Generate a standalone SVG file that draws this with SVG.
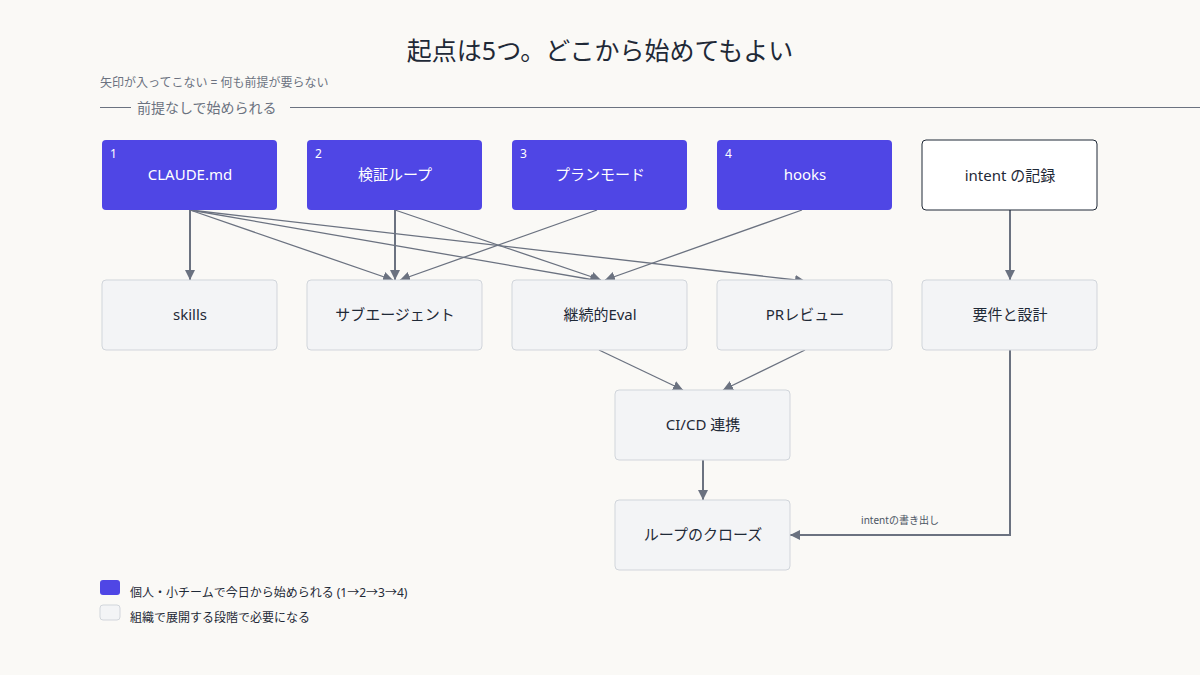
<svg xmlns="http://www.w3.org/2000/svg" width="1200" height="675" viewBox="0 0 1200 675">
<style>
text{font-family:"Noto Sans","Noto Sans CJK JP",sans-serif}
.p rect{fill:#4f46e5}
.p text{fill:#ffffff}
.s rect{fill:#f3f4f6;stroke:#d1d5db;stroke-width:1}
.s text{fill:#1f2937}
.lbl{font-size:15px;text-anchor:middle}
.num{font-size:12px}
.e{stroke:#6b7280;stroke-width:1.3;fill:none;marker-end:url(#ah)}
.ev{stroke:#6b7280;stroke-width:2;fill:none;marker-end:url(#ah)}
</style>
<defs>
<marker id="ah" viewBox="0 0 10 10" refX="10" refY="5" markerWidth="10" markerHeight="10" markerUnits="userSpaceOnUse" orient="auto">
<path d="M0,0 L10,5 L0,10 z" fill="#6b7280"/>
</marker>
</defs>
<rect width="1200" height="675" fill="#faf9f6"/>
<text x="600" y="60" font-size="25" text-anchor="middle" fill="#1f2937">起点は5つ。どこから始めてもよい</text>
<text x="100" y="87" font-size="12" fill="#6b7280">矢印が入ってこない = 何も前提が要らない</text>
<line x1="100" y1="107.5" x2="131" y2="107.5" stroke="#6b7280" stroke-width="1"/>
<text x="137" y="113" font-size="14" fill="#6b7280">前提なしで始められる</text>
<line x1="290" y1="107.5" x2="1200" y2="107.5" stroke="#6b7280" stroke-width="1"/>

<g id="connectors">
<line class="ev" x1="190" y1="210" x2="190" y2="280"/>
<line class="e" x1="190" y1="210" x2="393" y2="280"/>
<line class="e" x1="190" y1="210" x2="600" y2="281"/>
<line class="e" x1="190" y1="210" x2="805" y2="281"/>
<line class="ev" x1="395" y1="210" x2="395" y2="280"/>
<line class="e" x1="395" y1="210" x2="601" y2="280"/>
<line class="e" x1="597" y1="210" x2="400" y2="280"/>
<line class="e" x1="802" y1="210" x2="605" y2="280"/>
<line class="ev" x1="1010" y1="210" x2="1010" y2="280"/>
<line class="e" x1="599" y1="350" x2="683" y2="390"/>
<line class="e" x1="805" y1="350" x2="723" y2="390"/>
<line class="ev" x1="703" y1="460" x2="703" y2="500"/>
<polyline class="ev" points="1010,350 1010,535 790,535"/>
<text x="900" y="524" font-size="10" text-anchor="middle" fill="#4b5563">intentの書き出し</text>
</g>

<g id="n1" class="p"><rect x="102" y="140" width="175" height="70" rx="4"/><text class="num" x="110" y="158">1</text><text class="lbl" x="190" y="180">CLAUDE.md</text></g>
<g id="n2" class="p"><rect x="307" y="140" width="175" height="70" rx="4"/><text class="num" x="315" y="158">2</text><text class="lbl" x="395" y="180">検証ループ</text></g>
<g id="n3" class="p"><rect x="512" y="140" width="175" height="70" rx="4"/><text class="num" x="520" y="158">3</text><text class="lbl" x="600" y="180">プランモード</text></g>
<g id="n4" class="p"><rect x="717" y="140" width="175" height="70" rx="4"/><text class="num" x="725" y="158">4</text><text class="lbl" x="805" y="180">hooks</text></g>
<g id="n5"><rect x="922" y="140" width="175" height="70" rx="4" fill="#ffffff" stroke="#1f2937" stroke-width="1"/><text class="lbl" x="1010" y="181" fill="#1f2937">intent の記録</text></g>

<g id="skills" class="s"><rect x="102" y="280" width="175" height="70" rx="4"/><text class="lbl" x="190" y="320">skills</text></g>
<g id="subagent" class="s"><rect x="307" y="280" width="175" height="70" rx="4"/><text class="lbl" x="395" y="320">サブエージェント</text></g>
<g id="eval" class="s"><rect x="512" y="280" width="175" height="70" rx="4"/><text class="lbl" x="600" y="320">継続的Eval</text></g>
<g id="pr" class="s"><rect x="717" y="280" width="175" height="70" rx="4"/><text class="lbl" x="805" y="320">PRレビュー</text></g>
<g id="req" class="s"><rect x="922" y="280" width="175" height="70" rx="4"/><text class="lbl" x="1010" y="320">要件と設計</text></g>
<g id="cicd" class="s"><rect x="615" y="390" width="175" height="70" rx="4"/><text class="lbl" x="703" y="430">CI/CD 連携</text></g>
<g id="close" class="s"><rect x="615" y="500" width="175" height="70" rx="4"/><text class="lbl" x="703" y="540">ループのクローズ</text></g>

<g id="legend">
<rect x="100" y="580" width="20" height="15" rx="3" fill="#4f46e5"/>
<text x="130" y="597" font-size="12" fill="#1f2937">個人・小チームで今日から始められる (1→2→3→4)</text>
<rect x="100" y="605" width="20" height="15" rx="3" fill="#f3f4f6" stroke="#d1d5db"/>
<text x="130" y="622" font-size="12" fill="#1f2937">組織で展開する段階で必要になる</text>
</g>
</svg>
